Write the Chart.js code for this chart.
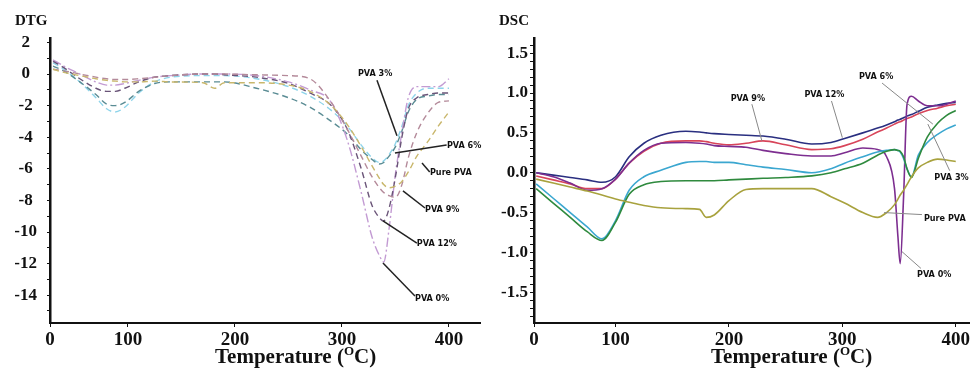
<!DOCTYPE html>
<html>
<head>
<meta charset="utf-8">
<script src="https://cdn.jsdelivr.net/npm/chart.js@4"></script>
<style>
  body { margin: 0; background: #fff; }
  .panel { position: absolute; top: 0; width: 486px; height: 372px; }
  .xtitle { position: absolute; top: 344px; font: bold 21px 'Liberation Serif', 'Times New Roman', serif; color: #111; white-space: nowrap; }
  .xtitle sup { font-size: 13px; vertical-align: 8px; line-height: 0; }
</style>
</head>
<body>
<div class="panel" style="left:0"><canvas id="dtg" width="486" height="372"></canvas></div>
<div class="panel" style="left:486px"><canvas id="dsc" width="486" height="372"></canvas></div>
<div class="xtitle" style="left:215px">Temperature (<sup>O</sup>C)</div>
<div class="xtitle" style="left:711px">Temperature (<sup>O</sup>C)</div>
<script>
// ---- DTG (left) ----
const dtgTemp = [30, 40, 55, 70, 80, 88, 97, 110, 125, 140, 170, 181, 190, 220, 250, 270, 290, 305, 318, 328, 335, 339, 344, 350, 356, 362, 370, 380, 390, 400];
const dtgPure = [0.3, 0.1, -0.1, -0.3, -0.4, -0.45, -0.5, -0.5, -0.45, -0.5, -0.55, -0.9, -0.55, -0.55, -0.7, -1.1, -2.0, -3.2, -4.6, -5.8, -6.6, -7.0, -7.2, -7.1, -6.8, -6.2, -5.2, -4.3, -3.3, -2.4];
const dtgPVA0 = [0.9, 0.5, 0.0, -0.5, -0.7, -0.7, -0.6, -0.4, -0.2, -0.1, 0.0, 0.0, 0.0, -0.1, -0.5, -1.0, -1.8, -4.2, -7.5, -10.3, -11.5, -11.9, -9.8, -6.3, -3.7, -1.5, -0.8, -0.8, -0.8, -0.3];
const dtgPVA3 = [0.7, 0.3, -0.5, -1.5, -2.2, -2.4, -2.1, -1.2, -0.5, -0.2, -0.1, -0.1, -0.1, -0.3, -0.8, -1.4, -2.3, -3.3, -4.5, -5.3, -5.6, -5.5, -5.1, -4.4, -3.3, -2.0, -1.2, -0.9, -0.9, -0.9];
const dtgPVA6 = [0.5, 0.2, -0.5, -1.3, -1.9, -2.0, -1.8, -1.1, -0.6, -0.5, -0.5, -0.5, -0.5, -0.9, -1.5, -2.1, -3.0, -3.8, -4.8, -5.4, -5.7, -5.6, -5.2, -4.6, -3.6, -2.4, -1.6, -1.4, -1.3, -1.3];
const dtgPVA9 = [0.3, 0.2, 0.0, -0.2, -0.3, -0.35, -0.35, -0.3, -0.2, -0.1, 0.0, 0.0, 0.0, -0.05, -0.1, -0.3, -1.8, -3.5, -5.2, -6.5, -7.2, -7.5, -7.7, -7.8, -7.0, -5.3, -3.7, -2.5, -1.8, -1.7];
const dtgPVA12 = [0.8, 0.4, -0.3, -0.9, -1.1, -1.1, -0.9, -0.5, -0.2, -0.1, 0.0, 0.0, -0.05, -0.2, -0.6, -1.2, -2.0, -3.5, -6.0, -8.3, -9.1, -9.3, -8.5, -6.5, -4.0, -2.2, -1.5, -1.3, -1.2, -1.2];

const dtgNotes = [
  { text: 'PVA 3%', tx: 331, ty: 0.0, align: 'center', from: [332.7, -0.4], to: [351.4, -3.9] },
  { text: 'PVA 6%', tx: 398.1, ty: -4.56, align: 'left', from: [397.8, -4.5], to: [349.5, -5.0] },
  { text: 'Pure PVA', tx: 382.2, ty: -6.27, align: 'left', from: [382, -6.2], to: [374.8, -5.63] },
  { text: 'PVA 9%', tx: 377.6, ty: -8.6, align: 'left', from: [377.6, -8.48], to: [357, -7.4] },
  { text: 'PVA 12%', tx: 370, ty: -10.76, align: 'left', from: [370, -10.7], to: [338.3, -9.3] },
  { text: 'PVA 0%', tx: 368.2, ty: -14.24, align: 'left', from: [368.2, -14.05], to: [338.3, -11.96] }
];

// ---- DSC (right) ----
const dscTemp = [30, 45, 60, 75, 88, 100, 112, 125, 140, 162, 174, 180, 187, 200, 215, 230, 250, 273, 290, 302, 318, 331, 339, 346, 349, 351, 354, 357, 361, 367, 375, 384, 392, 400];
const dscPVA12 = [0.0, -0.03, -0.06, -0.09, -0.12, -0.05, 0.2, 0.37, 0.47, 0.52, 0.51, 0.5, 0.49, 0.48, 0.47, 0.46, 0.42, 0.36, 0.38, 0.43, 0.5, 0.56, 0.6, 0.64, 0.66, 0.67, 0.69, 0.71, 0.73, 0.77, 0.82, 0.85, 0.87, 0.88];
const dscPVA9 = [-0.04, -0.09, -0.14, -0.2, -0.2, -0.08, 0.12, 0.27, 0.37, 0.4, 0.4, 0.39, 0.37, 0.35, 0.37, 0.4, 0.35, 0.29, 0.3, 0.34, 0.42, 0.51, 0.56, 0.61, 0.63, 0.64, 0.66, 0.68, 0.7, 0.74, 0.78, 0.81, 0.84, 0.86];
const dscPVA0 = [0.0, -0.05, -0.13, -0.22, -0.2, -0.08, 0.12, 0.28, 0.37, 0.38, 0.37, 0.36, 0.34, 0.33, 0.32, 0.28, 0.24, 0.21, 0.21, 0.25, 0.31, 0.29, 0.2, -0.2, -0.8, -1.14, -0.3, 0.85, 0.96, 0.9, 0.84, 0.84, 0.86, 0.9];
const dscPVA3 = [-0.14, -0.32, -0.5, -0.68, -0.83, -0.6, -0.22, -0.05, 0.03, 0.13, 0.14, 0.14, 0.13, 0.13, 0.1, 0.07, 0.04, 0.0, 0.05, 0.12, 0.2, 0.26, 0.28, 0.29, 0.28, 0.26, 0.18, 0.05, -0.05, 0.22, 0.38, 0.48, 0.55, 0.6];
const dscPVA6 = [-0.2, -0.38, -0.56, -0.74, -0.85, -0.62, -0.27, -0.15, -0.11, -0.1, -0.1, -0.1, -0.1, -0.09, -0.08, -0.07, -0.06, -0.04, 0.0, 0.05, 0.12, 0.22, 0.27, 0.29, 0.28, 0.27, 0.2, 0.05, -0.06, 0.18, 0.45, 0.62, 0.72, 0.78];
const dscPure = [-0.08, -0.13, -0.18, -0.23, -0.28, -0.33, -0.37, -0.41, -0.44, -0.45, -0.46, -0.56, -0.53, -0.35, -0.21, -0.2, -0.2, -0.2, -0.3, -0.38, -0.5, -0.56, -0.5, -0.4, -0.33, -0.28, -0.22, -0.15, -0.05, 0.06, 0.13, 0.17, 0.16, 0.14];

const dscNotes = [
  { text: 'PVA 9%', tx: 216.7, ty: 0.925, align: 'center', from: [220.2, 0.86], to: [229, 0.4] },
  { text: 'PVA 12%', tx: 284.2, ty: 0.975, align: 'center', from: [290.4, 0.9], to: [300, 0.44] },
  { text: 'PVA 6%', tx: 329.8, ty: 1.21, align: 'center', from: [335, 1.125], to: [379.8, 0.61] },
  { text: 'PVA 3%', tx: 411.4, ty: -0.06, align: 'right', from: [394.7, 0.025], to: [375.4, 0.61] },
  { text: 'Pure PVA', tx: 371.9, ty: -0.575, align: 'left', from: [370.2, -0.525], to: [336.8, -0.5] },
  { text: 'PVA 0%', tx: 365.8, ty: -1.275, align: 'left', from: [369.3, -1.2], to: [352.6, -0.99] }
];

const xTickValues = [100, 200, 300, 400];

const serif = "'Liberation Serif', 'Times New Roman', serif";
const narrow = "'Liberation Sans Narrow', 'DejaVu Sans Condensed', 'Liberation Sans', sans-serif";

const points = (temps, vals) => temps.map((t, i) => ({ x: t, y: vals[i] }));

// draws the small labels with their leader lines
function leaders(notes, lineColor, lineWidth) {
  return {
    id: 'leaders',
    afterDatasetsDraw(chart) {
      const { ctx, scales: { x, y } } = chart;
      ctx.save();
      ctx.strokeStyle = lineColor;
      ctx.lineWidth = lineWidth;
      ctx.fillStyle = '#111';
      ctx.font = 'bold 9px ' + narrow;
      ctx.textBaseline = 'middle';
      notes.forEach(n => {
        ctx.beginPath();
        ctx.moveTo(x.getPixelForValue(n.from[0]), y.getPixelForValue(n.from[1]));
        ctx.lineTo(x.getPixelForValue(n.to[0]), y.getPixelForValue(n.to[1]));
        ctx.stroke();
        ctx.textAlign = n.align;
        ctx.fillText(n.text, x.getPixelForValue(n.tx), y.getPixelForValue(n.ty));
      });
      ctx.restore();
    }
  };
}

function xScale(min, max) {
  return {
    type: 'linear', min: min, max: max,
    afterBuildTicks: a => { a.ticks = [min].concat(xTickValues).map(v => ({ value: v })); },
    ticks: {
      callback: v => v === min ? '0' : String(v),
      font: { family: serif, size: 19, weight: 'bold' }, color: '#111',
      padding: 2, maxRotation: 0, autoSkip: false
    },
    grid: { drawOnChartArea: false, tickLength: 4, color: '#111' },
    border: { color: '#111', width: 2 },
    afterFit: s => { s.height = 49; }
  };
}

function titleOpts(text) {
  return {
    display: true, text: text, align: 'start', color: '#111',
    font: { family: serif, size: 15, weight: 'bold' },
    padding: { top: 12, bottom: 8 }
  };
}

const dash = (label, vals, color, pattern) => ({
  label: label, data: points(dtgTemp, vals), borderColor: color, borderWidth: 1.4,
  borderDash: pattern || [6, 4], pointRadius: 0, fill: false, cubicInterpolationMode: 'monotone'
});

new Chart(document.getElementById('dtg'), {
  type: 'line',
  data: {
    datasets: [
      dash('Pure PVA', dtgPure, '#c9b76c'),
      dash('PVA 9%', dtgPVA9, '#b48a9a'),
      dash('PVA 12%', dtgPVA12, '#6a5478'),
      dash('PVA 0%', dtgPVA0, '#c39bd3', [9, 3, 2, 3]),
      dash('PVA 6%', dtgPVA6, '#5a8c94'),
      dash('PVA 3%', dtgPVA3, '#8ed4ea')
    ]
  },
  options: {
    responsive: false, animation: false, devicePixelRatio: 1,
    layout: { padding: { left: 15, right: 6, top: 0, bottom: 0 } },
    plugins: { legend: { display: false }, tooltip: { enabled: false }, title: titleOpts('DTG') },
    scales: {
      x: xScale(27.1, 429),
      y: {
        min: -15.76, max: 2.28,
        ticks: {
          stepSize: 1, includeBounds: false, autoSkip: false, maxTicksLimit: 100,
          callback: v => v % 2 === 0 ? String(v) : '',
          font: { family: serif, size: 17, weight: 'bold' }, color: '#111',
          crossAlign: 'center', padding: 10
        },
        grid: { drawOnChartArea: false, tickLength: 3, color: '#111' },
        border: { color: '#111', width: 2.5 },
        afterFit: s => { s.width = 35; }
      }
    }
  },
  plugins: [leaders(dtgNotes, '#222', 1.5)]
});

const solid = (label, vals, color) => ({
  label: label, data: points(dscTemp, vals), borderColor: color, borderWidth: 1.6,
  pointRadius: 0, fill: false, cubicInterpolationMode: 'monotone'
});

new Chart(document.getElementById('dsc'), {
  type: 'line',
  data: {
    datasets: [
      solid('Pure PVA', dscPure, '#a8a23e'),
      solid('PVA 6%', dscPVA6, '#2f8a3e'),
      solid('PVA 3%', dscPVA3, '#3ba7d0'),
      solid('PVA 0%', dscPVA0, '#7d2e90'),
      solid('PVA 9%', dscPVA9, '#d8455a'),
      solid('PVA 12%', dscPVA12, '#2a2f80')
    ]
  },
  options: {
    responsive: false, animation: false, devicePixelRatio: 1,
    layout: { padding: { left: 13, right: 0, top: 0, bottom: 0 } },
    plugins: { legend: { display: false }, tooltip: { enabled: false }, title: titleOpts('DSC') },
    scales: {
      x: xScale(28.07, 412.3),
      y: {
        min: -1.885, max: 1.69,
        ticks: {
          stepSize: 0.1, includeBounds: false, autoSkip: false, maxTicksLimit: 100,
          callback: v => Math.abs(v * 2 - Math.round(v * 2)) < 1e-6 ? v.toFixed(1) : '',
          font: { family: serif, size: 17, weight: 'bold' }, color: '#111',
          padding: 2
        },
        grid: { drawOnChartArea: false, tickLength: 4, color: '#111' },
        border: { color: '#111', width: 2.5 },
        afterFit: s => { s.width = 35; }
      }
    }
  },
  plugins: [leaders(dscNotes, '#888', 1)]
});
</script>
</body>
</html>
